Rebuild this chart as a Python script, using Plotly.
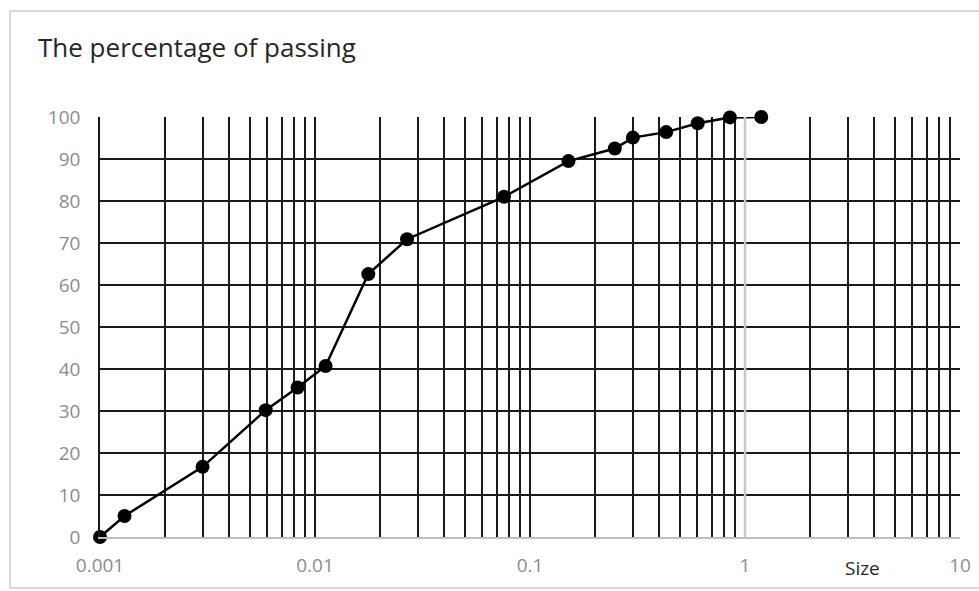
import plotly.graph_objects as go

# Data
size = [0.001, 0.0013, 0.003, 0.0059, 0.0083, 0.0112, 0.0177, 0.0268, 0.0757,
        0.151, 0.248, 0.301, 0.43, 0.603, 0.851, 1.19]
passing = [0, 5, 16.7, 30.2, 35.6, 40.7, 62.6, 70.9, 81.0,
           89.5, 92.5, 95.1, 96.4, 98.5, 99.9, 100]

decades = [0.001, 0.01, 0.1, 1, 10]
decade_labels = ["0.001", "0.01", "0.1", "1", "10"]
y_ticks = [0, 10, 20, 30, 40, 50, 60, 70, 80, 90, 100]

# all log grid positions (1..9 x decade) plus 10
grid_vals = []
grid_text = []
for d, lab in zip(decades[:-1], decade_labels[:-1]):
    for k in range(1, 10):
        grid_vals.append(k * d)
        grid_text.append(lab if k == 1 else "")
grid_vals.append(10)
grid_text.append("10")

W, H = 979, 591
L, T, R, B = 100, 117, 19, 54
PW, PH = W - L - R, H - T - B


def px(xpix):
    return (xpix - L) / PW


def py(ypix):
    return (H - B - ypix) / PH


fig = go.Figure()
fig.add_trace(go.Scatter(
    x=size, y=passing, mode="lines+markers",
    line=dict(color="black", width=2.5),
    marker=dict(color="black", size=14),
    showlegend=False, cliponaxis=False,
))

tick_font = dict(family="Open Sans", size=19, color="#8c8c8c")

fig.update_layout(
    width=W, height=H,
    margin=dict(l=L, r=R, t=T, b=B, autoexpand=False),
    paper_bgcolor="white", plot_bgcolor="white",
    title=dict(text="The percentage of passing", xref="container", yref="container",
               x=38 / W, xanchor="left", y=1 - 48 / H, yanchor="middle",
               font=dict(family="Open Sans", size=26, color="#262626")),
    xaxis=dict(type="log", range=[-3, 1], tickvals=grid_vals, ticktext=grid_text,
               showgrid=True, gridcolor="#1a1a1a", gridwidth=1.6,
               showline=True, linecolor="#bfbfbf", linewidth=1.5,
               ticks="", ticklabelstandoff=10, tickfont=tick_font,
               zeroline=False, mirror=False, automargin=False),
    yaxis=dict(range=[0, 100], tickvals=y_ticks,
               showgrid=True, gridcolor="#1a1a1a", gridwidth=1.6,
               showline=True, linecolor="#1a1a1a", linewidth=1.6,
               ticks="", ticklabelstandoff=14, tickfont=tick_font,
               zeroline=False, automargin=False),
    annotations=[dict(text="Size", xref="paper", yref="paper", x=px(862),
                      y=py(568), showarrow=False, xanchor="center",
                      yanchor="middle", font=dict(family="Open Sans", size=19, color="#262626"))],
    shapes=[
        dict(type="rect", xref="paper", yref="paper",
             x0=px(10), x1=px(1200), y0=py(588), y1=py(11),
             line=dict(color="#d9d9d9", width=2), layer="below"),
        # vertical axis line crossing at x = 1 (3/4 of the log range)
        dict(type="line", xref="paper", yref="paper", x0=0.75, x1=0.75, y0=0, y1=1,
             line=dict(color="#c8c8c8", width=2.5), layer="above"),
    ],
)

fig.write_html("out.html", config={"displayModeBar": False},
               post_script="document.body.style.margin='0';document.body.style.overflow='hidden';")
